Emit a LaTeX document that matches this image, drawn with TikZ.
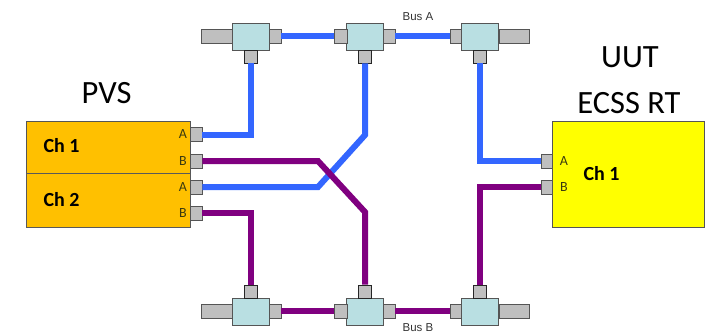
\documentclass[tikz,border=0pt]{standalone}
\usepackage{fontspec}
\setmainfont{Carlito}
\newfontfamily\busfont{Liberation Sans}
\definecolor{couplerfill}{HTML}{B9DFE2}
\definecolor{couplerline}{HTML}{555555}
\definecolor{stubgray}{HTML}{BFBFBF}
\definecolor{busblue}{HTML}{3366FF}
\definecolor{buspurple}{HTML}{800080}
\definecolor{pvsfill}{HTML}{FFC000}
\definecolor{uutfill}{HTML}{FFFF00}
\definecolor{portink}{HTML}{3A3A10}
\tikzset{
  x=1pt,y=-1pt,
  boxnode/.style={draw=#1,line width=0.8pt,inner sep=0pt,outer sep=0pt,anchor=north west},
  body/.style={fill=couplerfill,draw=couplerline,line width=0.9pt,inner sep=0pt,minimum width=37pt,minimum height=27pt},
  stubh/.style={fill=stubgray,draw=couplerline,line width=0.8pt,inner sep=0pt,minimum height=14pt},
  stubv/.style={fill=stubgray,draw=black!85,line width=0.8pt,inner sep=0pt,minimum width=13pt,minimum height=13pt},
  port/.style={fill=stubgray,draw=couplerline,line width=0.8pt,inner sep=0pt,minimum width=12pt,minimum height=14pt},
  busa/.style={draw=busblue,line width=6pt},
  busb/.style={draw=buspurple,line width=6pt},
  big/.style={font=\fontsize{32.5}{36}\selectfont,text=black,inner sep=0pt,anchor=base},
  chan/.style={font=\fontsize{20}{22}\selectfont\bfseries,text=black,inner sep=0pt,anchor=base},
  portlabel/.style={font=\fontsize{14}{16}\selectfont,text=portink,inner sep=0pt,anchor=base},
  buslabel/.style={font=\busfont\fontsize{11.5}{13}\selectfont,text=black!80,inner sep=0pt,anchor=base},
}
\begin{document}
\begin{tikzpicture}
\useasboundingbox (0,0) rectangle (708,333);
\begin{scope}
\clip (0,0) rectangle (708,333);

\coordinate (k1) at (318,161);
\coordinate (k2) at (365,212);
\coordinate (k3) at (318,187);
\coordinate (k4) at (365,135);

% couplers: top row
\foreach \n/\xb in {a1/250.5,a2/365,a3/480}{
  \node[body] (\n) at (\xb,36.5) {};
  \node[stubv] (\n s) at (\xb,56.5) {};
}
% couplers: bottom row
\foreach \n/\xb in {b1/250.5,b2/365,b3/480}{
  \node[body] (\n) at (\xb,311.5) {};
  \node[stubv] (\n s) at (\xb,291.5) {};
}
% horizontal stubs
\foreach \r/\y in {a/36,b/311}{
  \node[stubh,minimum width=31pt] (\r1l) at (216.5,\y) {};
  \node[stubh,minimum width=12pt] (\r1r) at (275,\y) {};
  \node[stubh,minimum width=13pt] (\r2l) at (340.5,\y) {};
  \node[stubh,minimum width=12pt] (\r2r) at (389,\y) {};
  \node[stubh,minimum width=11pt] (\r3l) at (455.5,\y) {};
  \node[stubh,minimum width=30pt] (\r3r) at (514,\y) {};
}
\draw[busa] (a1r.east) -- (a2l.west);
\draw[busa] (a2r.east) -- (a3l.west);
\draw[busb] (b1r.east) -- (b2l.west);
\draw[busb] (b2r.east) -- (b3l.west);

% equipment boxes
\node[boxnode=couplerline,fill=pvsfill,minimum width=164pt,minimum height=52pt] (ch1) at (26,121) {};
\node[boxnode=black!65,fill=pvsfill,minimum width=164pt,minimum height=54pt] (ch2) at (26,173) {};
\node[boxnode=couplerline,fill=uutfill,minimum width=152pt,minimum height=106pt] (uut) at (552,121) {};

% ports
\node[port] (p1a) at (196,134.5) {};
\node[port] (p1b) at (196,161) {};
\node[port] (p2a) at (196,187) {};
\node[port] (p2b) at (196,213) {};
\node[port,minimum width=11pt] (ua) at (546.5,161) {};
\node[port,minimum width=11pt] (ub) at (546.5,187) {};

% connecting wires
\draw[busa] (p2a.east) -- (k3) -- (k4) -- (a2s.south);
\draw[busb] (p1b.east) -- (k1) -- (k2) -- (b2s.north);
\draw[busa] (p1a.east) -| (a1s.south);
\draw[busb] (p2b.east) -| (b1s.north);
\draw[busa] (a3s.south) |- (ua.west);
\draw[busb] (b3s.north) |- (ub.west);

% texts
\node[big] (tpvs) at (106.5,103) {PVS};
\node[big] (tuut) at (630,67) {UUT};
\node[big] (tecss) at (629,113) {ECSS RT};
\node[chan] (c1) at (61.5,152.7) {Ch 1};
\node[chan] (c2) at (61.5,206.7) {Ch 2};
\node[chan] (c3) at (601.5,180.7) {Ch 1};
\node[portlabel] (l1a) at (183,138) {A};
\node[portlabel] (l1b) at (183,165) {B};
\node[portlabel] (l2a) at (183,191) {A};
\node[portlabel] (l2b) at (183,217.7) {B};
\node[portlabel] (l3a) at (564,165) {A};
\node[portlabel] (l3b) at (564,191) {B};
\node[buslabel] (ba) at (418,20.5) {Bus A};
\node[buslabel] (bb) at (418,331) {Bus B};
\end{scope}
\end{tikzpicture}
\end{document}
